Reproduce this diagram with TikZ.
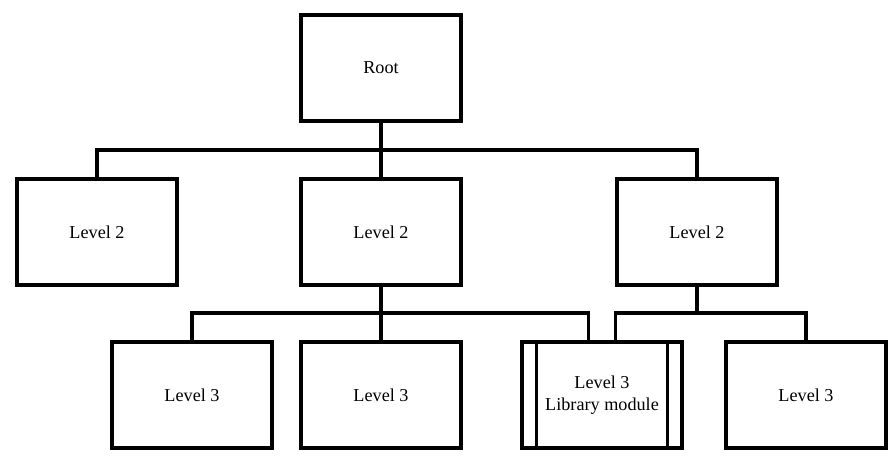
\documentclass[tikz,border=0pt]{standalone}
\usepackage{fontspec}
\setmainfont{Liberation Serif}
\usepackage{tikz}
\usetikzlibrary{positioning,calc}
\tikzset{
    modulo/.style={
        rectangle,
        draw,
        line width=2.2pt,
        align=center,
        minimum width=88pt,
        minimum height=58pt,
        inner sep=2pt
    },
    biblioteca/.style={
        modulo,
        path picture={
            \draw[line width=2pt]
                ([xshift=8pt]path picture bounding box.north west) --
                ([xshift=8pt]path picture bounding box.south west);
            \draw[line width=2pt]
                ([xshift=-8pt]path picture bounding box.north east) --
                ([xshift=-8pt]path picture bounding box.south east);
        }
    },
    ligacao/.style={line width=2pt, line join=miter}
}

\begin{document}
\begin{tikzpicture}[x=0.55pt, y=-0.55pt, font=\normalsize]
        \useasboundingbox (0,0) rectangle (891,455);
        \node[modulo] (root) at (381,68) {Root};
        \node[modulo] (levelA) at (97,232) {Level 2};
        \node[modulo] (levelB) at (381,232) {Level 2};
        \node[modulo] (levelC) at (697,232) {Level 2};
        \node[modulo] (subA) at (192,395) {Level 3};
        \node[modulo] (subB) at (381,395) {Level 3};
        \node[biblioteca] (lib) at (602,395) {Level 3\\Library module};
        \node[modulo] (subD) at (806,395) {Level 3};

        \coordinate (barTop) at (381,150);
        \coordinate (barMid) at (381,313);
        \coordinate (barRight) at (697,313);

        \draw[ligacao] (root) -- (levelB);
        \draw[ligacao] (levelA.north) |- (barTop) -| (levelC.north);
        \draw[ligacao] (levelB) -- (subB);
        \draw[ligacao] (subA.north) |- (barMid) -| ([xshift=-7.5pt]lib.north);
        \draw[ligacao] (levelC.south) -- (barRight);
        \draw[ligacao] ([xshift=7.5pt]lib.north) |- (barRight) -| (subD.north);
    \end{tikzpicture}
\end{document}
